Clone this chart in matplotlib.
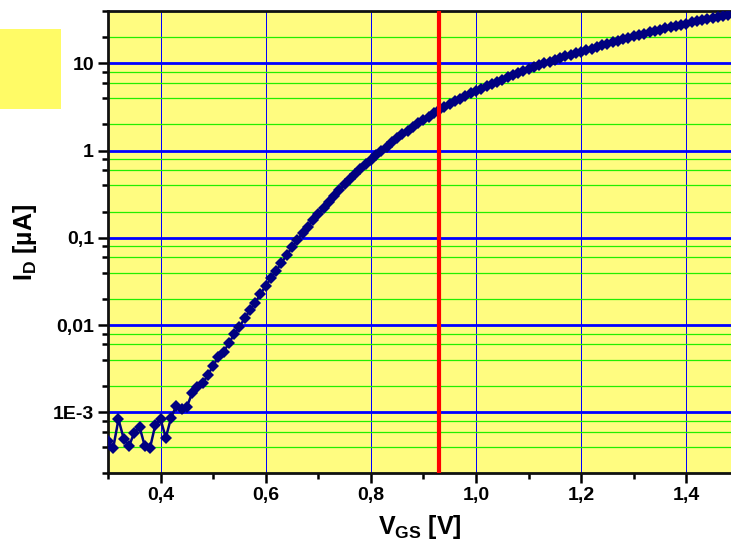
import numpy as np
import matplotlib
matplotlib.use("Agg")
import matplotlib.pyplot as plt
from matplotlib.patches import Rectangle
from matplotlib.ticker import FixedLocator, FixedFormatter

plt.rcParams['font.family'] = ['Liberation Sans', 'DejaVu Sans']
plt.rcParams['font.weight'] = 'bold'
plt.rcParams['mathtext.fontset'] = 'custom'
plt.rcParams['mathtext.rm'] = 'Liberation Sans:bold'
plt.rcParams['mathtext.bf'] = 'Liberation Sans:bold'

# gate voltage in volts, 0.01 V steps
vgs = np.round(np.arange(0.30, 1.485, 0.01), 2)

# drain current, as log10 of I_D in uA
log_id = [
    -3.329, -3.406, -3.080, -3.303, -3.386, -3.234, -3.165, -3.386, -3.406, -3.146,  # 0.30-0.39
    -3.080, -3.291, -3.062, -2.924, -2.959, -2.936, -2.782, -2.707, -2.668, -2.572,  # 0.40-0.49
    -2.466, -2.363, -2.305, -2.209, -2.103, -2.019, -1.923, -1.828, -1.744, -1.644,  # 0.50-0.59
    -1.549, -1.464, -1.377, -1.285, -1.197, -1.109, -1.025, -0.942, -0.873, -0.796,  # 0.60-0.69
    -0.727, -0.662, -0.586, -0.521, -0.452, -0.387, -0.326, -0.272, -0.215, -0.158,  # 0.70-0.79
    -0.108, -0.051, -0.002, 0.044, 0.094, 0.140, 0.186, 0.229, 0.271, 0.312,        # 0.80-0.89
    0.351, 0.390, 0.427, 0.463, 0.499, 0.533, 0.565, 0.597, 0.628, 0.657,           # 0.90-0.99
    0.686, 0.712, 0.739, 0.765, 0.790, 0.816, 0.840, 0.865, 0.888, 0.912,           # 1.00-1.09
    0.935, 0.957, 0.979, 1.001, 1.022, 1.043, 1.063, 1.083, 1.102, 1.121,           # 1.10-1.19
    1.137, 1.152, 1.171, 1.189, 1.207, 1.225, 1.243, 1.260, 1.277, 1.294,           # 1.20-1.29
    1.310, 1.326, 1.342, 1.358, 1.373, 1.388, 1.403, 1.417, 1.431, 1.445,           # 1.30-1.39
    1.458, 1.471, 1.484, 1.496, 1.508, 1.520, 1.531, 1.542, 1.553,                  # 1.40-1.48
]
id_ua = np.power(10.0, log_id)

v_marker = 0.93

y_ticks = [1e-3, 1e-2, 1e-1, 1, 10]
y_labels = ['1E-3', '0,01', '0,1', '1', '10']
x_ticks = [0.4, 0.6, 0.8, 1.0, 1.2, 1.4]
x_labels = ['0,4', '0,6', '0,8', '1,0', '1,2', '1,4']
x_minor = [0.3, 0.5, 0.7, 0.9, 1.1, 1.3]

fig = plt.figure(figsize=(7.31, 5.48), dpi=100)
ax = fig.add_axes([0.1477, 0.1363, 0.8523, 0.8437])
ax.set_facecolor('#FFFC80')

# the empty legend box in the top left corner
fig.patches.append(Rectangle((0, 0.801), 0.0834, 0.146, transform=fig.transFigure,
                             facecolor='#FFFB66', edgecolor='none'))

ax.set_yscale('log')
ax.set_xlim(0.3, 1.485)
ax.set_ylim(2e-4, 40)

minor_y = [m * 10.0 ** e for e in range(-4, 2) for m in (2, 4, 6, 8)]
minor_y = [v for v in minor_y if 2e-4 <= v <= 40]
ax.yaxis.set_major_locator(FixedLocator(y_ticks))
ax.yaxis.set_major_formatter(FixedFormatter(y_labels))
ax.yaxis.set_minor_locator(FixedLocator(minor_y))
ax.yaxis.set_minor_formatter(FixedFormatter([''] * len(minor_y)))
ax.xaxis.set_major_locator(FixedLocator(x_ticks))
ax.xaxis.set_major_formatter(FixedFormatter(x_labels))
ax.xaxis.set_minor_locator(FixedLocator(x_minor))
ax.xaxis.set_minor_formatter(FixedFormatter([''] * len(x_minor)))

ax.tick_params(which='major', direction='out', length=7, width=1.8, labelsize=14, pad=3)
ax.tick_params(which='minor', direction='out', length=4, width=1.8)

# whole-pixel grid widths so they stay crisp
ax.yaxis.grid(True, which='minor', color='#22EE00', linewidth=0.9)
ax.yaxis.grid(True, which='major', color='#0000FF', linewidth=2.0)
ax.xaxis.grid(True, which='major', color='#0000FF', linewidth=0.72)
ax.xaxis.grid(False, which='minor')
ax.set_axisbelow(True)

ax.plot(vgs, id_ua, color='#000080', linewidth=1.8, marker='D', markersize=6.3,
        markeredgewidth=0, zorder=3)
ax.axvline(v_marker, color='#FF0000', linewidth=3.0, zorder=4)

for side in ('top', 'left', 'bottom'):
    ax.spines[side].set_linewidth(2.0)
    ax.spines[side].set_color('#111111')
ax.spines['right'].set_visible(False)

ax.set_xlabel(r'$\mathregular{V_{GS}}$ [V]', fontsize=18, fontweight='bold', labelpad=6)
ax.set_ylabel(r'$\mathregular{I_D}$ [µA]', fontsize=18, fontweight='bold', labelpad=10)

fig.savefig('out.png', dpi=100)
